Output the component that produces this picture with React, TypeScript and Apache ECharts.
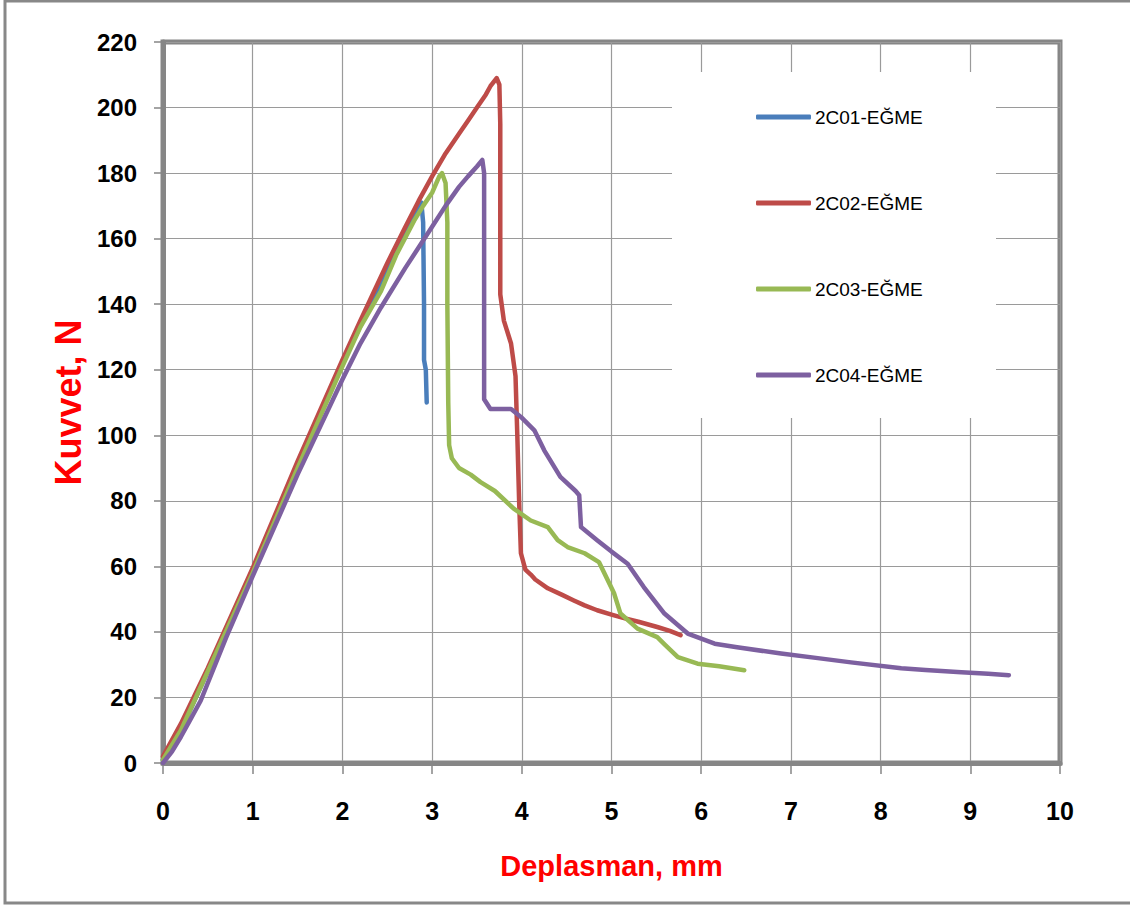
import React, { useEffect, useRef } from "react";
import * as echarts from "echarts";

const seriesNames = ["2C01-EĞME", "2C02-EĞME", "2C03-EĞME", "2C04-EĞME"];
const seriesColors = ["#4A7EBB", "#BE4B48", "#98B954", "#7D60A0"];

const s2C01: [number, number][] = [
  [0, 1], [0.2, 10], [0.5, 28], [1, 58.5], [1.5, 91], [2, 122], [2.3, 139], [2.5, 150], [2.7, 161],
  [2.8, 166.5], [2.88, 171], [2.9, 165], [2.91, 140], [2.91, 123], [2.93, 120], [2.94, 110],
];

const s2C02: [number, number][] = [
  [0, 2], [0.2, 12], [0.5, 29], [1, 59.5], [1.5, 92], [2, 123], [2.2, 135], [2.5, 152.5], [2.7, 163.5],
  [2.85, 171.5], [3, 179], [3.15, 186], [3.3, 192], [3.4, 196], [3.5, 200], [3.6, 204], [3.65, 206.5],
  [3.72, 209], [3.75, 207], [3.76, 195], [3.76, 143], [3.8, 135], [3.88, 128], [3.93, 118], [3.95, 100],
  [3.97, 80], [3.99, 64], [4.04, 59], [4.1, 57.5], [4.15, 56], [4.29, 53.3], [4.45, 51.3], [4.58, 49.6],
  [4.7, 48.1], [4.84, 46.6], [5.0, 45.3], [5.14, 44.2], [5.3, 43.1], [5.51, 41.5], [5.65, 40.3], [5.77, 39],
];

const s2C03: [number, number][] = [
  [0, 1], [0.2, 10], [0.5, 28], [1, 58], [1.5, 90], [2, 121], [2.2, 133], [2.43, 144], [2.6, 155],
  [2.8, 165.5], [2.9, 170], [3, 174], [3.08, 179], [3.11, 180], [3.15, 177], [3.17, 165], [3.17, 140],
  [3.18, 110], [3.19, 97], [3.22, 93], [3.3, 90], [3.43, 88], [3.54, 85.7], [3.7, 83], [3.91, 77.6],
  [4.1, 74], [4.29, 72], [4.4, 68], [4.51, 65.9], [4.7, 64], [4.86, 61.3], [5.03, 51.7], [5.1, 45.6],
  [5.29, 41], [5.51, 38.4], [5.6, 36], [5.74, 32.3], [5.96, 30.3], [6.2, 29.5], [6.48, 28.3],
];

const s2C04: [number, number][] = [
  [0, 0], [0.1, 3.5], [0.2, 8], [0.3, 13], [0.42, 19], [0.7, 38], [1, 57], [1.5, 88], [2, 117],
  [2.2, 128], [2.43, 139], [2.7, 151], [3, 163.6], [3.15, 170], [3.3, 175.8], [3.4, 179], [3.5, 182],
  [3.56, 184], [3.58, 180], [3.58, 111], [3.65, 108], [3.88, 108], [3.99, 105.6], [4.14, 101.5],
  [4.25, 95.4], [4.43, 87.3], [4.6, 83], [4.64, 81.7], [4.66, 72], [4.84, 68], [5.0, 64.5], [5.18, 60.8],
  [5.36, 53.7], [5.59, 45.6], [5.85, 39.5], [6.15, 36.4], [6.4, 35.3], [6.89, 33.4], [7.3, 32],
  [7.67, 30.7], [8.23, 28.9], [8.5, 28.4], [8.9, 27.7], [9.2, 27.2], [9.43, 26.8],
];

const seriesData = [s2C01, s2C02, s2C03, s2C04];

const xTitle = "Deplasman, mm";
const yTitle = "Kuvvet, N";

const sans = "'Liberation Sans', Arial, sans-serif";

export default function App() {
  const ref = useRef<HTMLDivElement>(null);

  useEffect(() => {
    if (!ref.current) return;
    const chart = echarts.init(ref.current, undefined, { renderer: "svg" });
    chart.setOption({
      animation: false,
      backgroundColor: "#fff",
      grid: {
        left: 163,
        right: 70,
        top: 42,
        bottom: 144,
        show: true,
        borderColor: "#868686",
        borderWidth: 5,
        backgroundColor: "transparent",
      },
      xAxis: {
        type: "value",
        min: 0,
        max: 10,
        interval: 1,
        name: xTitle,
        nameLocation: "middle",
        nameGap: 88,
        nameTextStyle: { color: "#FF0000", fontWeight: "bold", fontSize: 29, fontFamily: sans },
        axisLine: { show: true, lineStyle: { color: "#868686", width: 5 } },
        axisTick: { show: true, length: 11, lineStyle: { color: "#868686", width: 1.5 } },
        axisLabel: { color: "#000", fontSize: 25, fontWeight: "bold", fontFamily: sans, margin: 35 },
        splitLine: { show: true, lineStyle: { color: "#9a9a9a", width: 1.2 } },
      },
      yAxis: {
        type: "value",
        min: 0,
        max: 220,
        interval: 20,
        name: yTitle,
        nameLocation: "middle",
        nameGap: 70,
        nameTextStyle: { color: "#FF0000", fontWeight: "bold", fontSize: 36, fontFamily: sans },
        axisLine: { show: true, lineStyle: { color: "#868686", width: 5 } },
        axisTick: { show: true, length: 9, lineStyle: { color: "#868686", width: 1.5 } },
        axisLabel: { color: "#000", fontSize: 24, fontWeight: "bold", fontFamily: sans, margin: 26 },
        splitLine: { show: true, lineStyle: { color: "#9a9a9a", width: 1.2 } },
      },
      legend: {
        orient: "vertical",
        left: 751,
        top: 100,
        itemWidth: 55,
        itemHeight: 5,
        itemGap: 62,
        icon: "roundRect",
        z: 10,
        textStyle: { color: "#000", fontSize: 19, fontFamily: sans, lineHeight: 24, padding: [0, 0, 0, -1] },
        data: seriesNames,
      },
      graphic: [
        {
          type: "rect",
          z: 1,
          shape: { x: 672, y: 72, width: 324, height: 346 },
          style: { fill: "#fff", stroke: "none" },
        },
        {
          type: "rect",
          z: 1,
          shape: { x: 5, y: 1, width: 1140, height: 902 },
          style: { fill: "none", stroke: "#888", lineWidth: 3 },
        },
      ],
      series: seriesNames.map((name, i) => ({
        name,
        type: "line",
        data: seriesData[i],
        showSymbol: false,
        symbol: "none",
        color: seriesColors[i],
        z: 3 + i,
        lineStyle: { color: seriesColors[i], width: 4.5, cap: "round", join: "round" },
      })),
    });
    return () => chart.dispose();
  }, []);

  return (
    <div
      ref={ref}
      style={{ position: "absolute", left: 0, top: 0, width: 1130, height: 907 }}
    />
  );
}
